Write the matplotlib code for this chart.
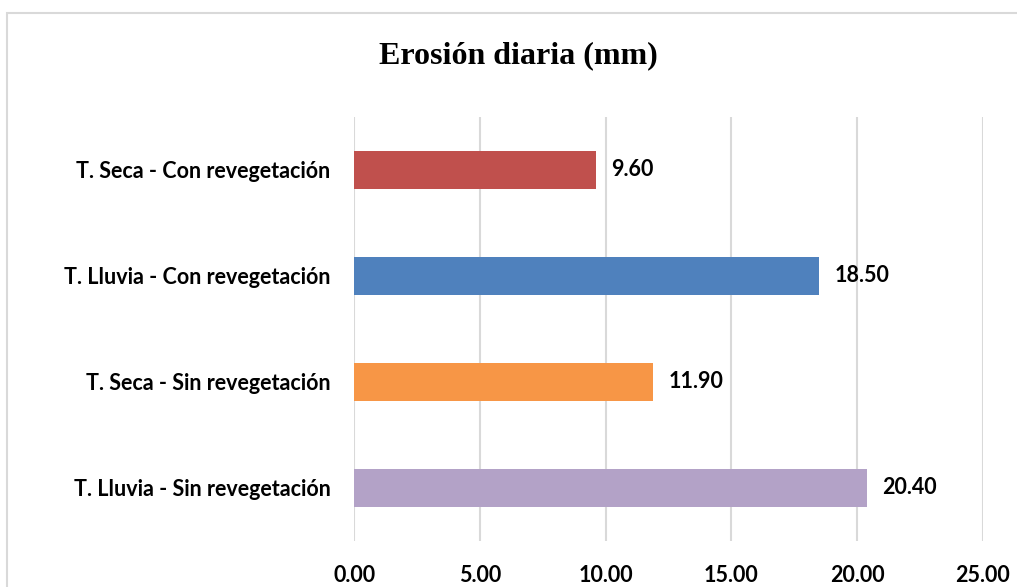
import matplotlib.pyplot as plt
from matplotlib.patches import Rectangle

categories = ["T. Lluvia - Sin revegetación", "T. Seca - Sin revegetación",
              "T. Lluvia - Con revegetación", "T. Seca - Con revegetación"]
values = [20.40, 11.90, 18.50, 9.60]
colors = ["#B3A2C7", "#F79646", "#4F81BD", "#C0504D"]
xticks = [0, 5, 10, 15, 20, 25]

fig = plt.figure(figsize=(10.17, 5.87), dpi=100)
fig.patches.append(Rectangle((7 / 1017, -0.1), 1.2, 1 - 13 / 587 + 0.1,
                             transform=fig.transFigure, fill=False,
                             edgecolor="#d9d9d9", linewidth=1.5))

ax = fig.add_axes([354.3 / 1017, 1 - 541 / 587, 628.4 / 1017, 424 / 587])
ax.barh(range(len(categories)), values, height=0.355, color=colors, zorder=3)

for i, v in enumerate(values):
    ax.text(v + 0.6, i, f"{v:.2f}", va="center", ha="left",
            fontsize=15.5, fontweight="bold", family="Lato")

ax.set_xlim(0, 25)
ax.set_ylim(-0.5, 3.5)
ax.set_xticks(xticks)
ax.set_xticklabels([f"{t:.2f}" for t in xticks], fontsize=15.5, fontweight="bold", family="Lato")
ax.set_yticks(range(len(categories)))
ax.set_yticklabels(categories, fontsize=15.5, fontweight="bold", family="Lato")
ax.tick_params(axis="both", length=0)
ax.tick_params(axis="y", pad=17)
ax.tick_params(axis="x", pad=17)
ax.grid(axis="x", color="#d9d9d9", linewidth=1.5, zorder=0)
for s in ax.spines.values():
    s.set_visible(False)

fig.text(518 / 1017, 1 - 56 / 587, "Erosión diaria (mm)", ha="center", va="center",
         fontsize=23, fontweight="bold", family="Liberation Serif")

fig.savefig("out.png", dpi=100)
